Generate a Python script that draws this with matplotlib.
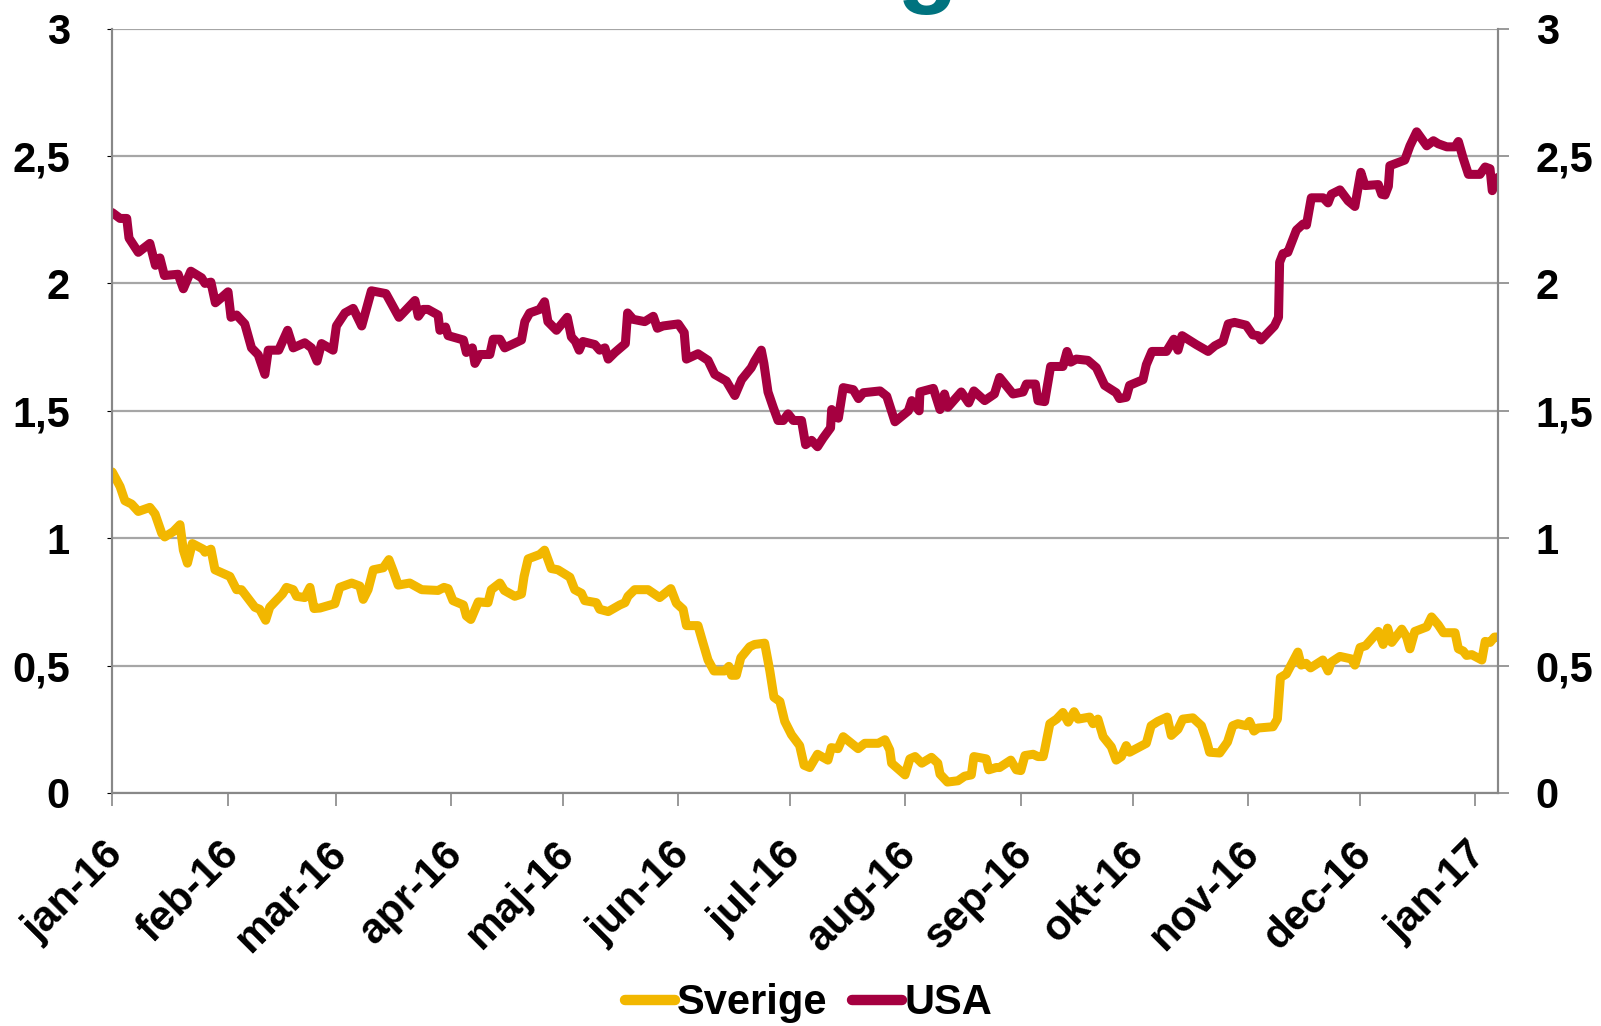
import matplotlib
matplotlib.use("Agg")
import matplotlib.pyplot as plt
import matplotlib.ticker as mticker
import matplotlib.transforms as mtransforms
import pandas as pd

plt.rcParams["font.family"] = ["Liberation Sans", "DejaVu Sans"]
plt.rcParams["font.weight"] = "bold"

# days counted from 1 jan 2016
usa_day = [0, 2.1, 3.9, 4.5, 7, 10.1, 11.6, 12.8, 14, 17.7, 19.1, 21.1, 24, 24.9, 26.5, 27.7,
           29.4, 31.1, 31.9, 33.4, 35.6, 37.4, 39.2, 41, 41.9, 44.7, 47.1, 48.6, 51.7, 53.5,
           55, 56.2, 59.3, 60.2, 62.5, 64.7, 67, 69.6, 73.5, 77, 81.3, 82.2, 83.5, 84.8, 87.5,
           88, 89.5, 90.2, 94.3, 95.1, 96.7, 97.4, 98.7, 101.4, 102.3, 104.1, 105.4, 109.9,
           110.8, 112.1, 114.8, 116.1, 117, 119.3, 122.2, 123.3, 124.4, 125.4, 126.4, 129.6,
           130.9, 132.3, 133.2, 135, 137.8, 138.4, 139.9, 143, 145.3, 146.4, 147.9, 152, 153.6,
           154.2, 157.3, 160, 161.8, 164.9, 167.2, 169, 171.6, 172.5, 174.3, 175, 176.1, 177.5,
           178.8, 180.2, 181.5, 182.9, 185.1, 186.2, 187.8, 189.4, 190.9, 192.9, 193.2, 195,
           196.3, 199, 200.4, 201.7, 206.2, 208, 210.2, 213.8, 214.7, 216.7, 216.9, 220.5,
           222.3, 223.5, 224.4, 228, 230, 231.4, 234.3, 236.9, 238.3, 241.9, 244.6, 245.5,
           247.9, 248.6, 250.4, 252, 255.3, 256.4, 257.4, 258.9, 262, 264.3, 266.5, 269.6,
           270.5, 272.3, 273.2, 276.8, 277.7, 279.2, 283.1, 285.1, 286.2, 287.3, 291.1, 294.3,
           296.1, 298.3, 299.7, 301.4, 304.5, 306.3, 307.7, 308.5, 312.1, 313.2, 313.5, 314.4,
           315.7, 318, 319.8, 320.7, 322, 325.2, 326.5, 327.4, 329.7, 331.9, 333.7, 335.3,
           336.4, 340, 340.9, 341.8, 342.7, 343.1, 347.1, 348.5, 350.3, 353, 354.8, 356.1,
           358.4, 360.6, 361.5, 362.8, 364.2, 367.3, 368.7, 370, 370.6, 372.1]
usa = [2.278, 2.255, 2.255, 2.178, 2.122, 2.157, 2.071, 2.1, 2.031, 2.036, 1.979, 2.048, 2.022,
       2.0, 2.005, 1.924, 1.945, 1.967, 1.867, 1.876, 1.841, 1.747, 1.72, 1.643, 1.738, 1.738,
       1.816, 1.747, 1.767, 1.747, 1.695, 1.764, 1.738, 1.833, 1.884, 1.902, 1.833, 1.971,
       1.96, 1.867, 1.933, 1.871, 1.898, 1.898, 1.876, 1.816, 1.829, 1.795, 1.778, 1.729,
       1.747, 1.686, 1.721, 1.721, 1.781, 1.781, 1.747, 1.778, 1.85, 1.884, 1.898, 1.928,
       1.85, 1.816, 1.867, 1.79, 1.772, 1.738, 1.772, 1.76, 1.738, 1.747, 1.703, 1.729, 1.764,
       1.884, 1.859, 1.85, 1.871, 1.824, 1.833, 1.841, 1.807, 1.703, 1.724, 1.698, 1.643,
       1.617, 1.56, 1.622, 1.669, 1.695, 1.738, 1.686, 1.574, 1.514, 1.462, 1.462, 1.488,
       1.462, 1.462, 1.367, 1.384, 1.359, 1.393, 1.433, 1.505, 1.471, 1.591, 1.583, 1.548,
       1.571, 1.578, 1.557, 1.457, 1.5, 1.54, 1.5, 1.574, 1.588, 1.505, 1.566, 1.514, 1.574,
       1.531, 1.578, 1.54, 1.566, 1.631, 1.566, 1.574, 1.605, 1.605, 1.54, 1.536, 1.674,
       1.674, 1.733, 1.691, 1.703, 1.698, 1.669, 1.6, 1.571, 1.548, 1.553, 1.6, 1.622, 1.681,
       1.733, 1.733, 1.781, 1.738, 1.795, 1.76, 1.733, 1.755, 1.772, 1.841, 1.847, 1.836,
       1.798, 1.795, 1.778, 1.833, 1.867, 2.083, 2.117, 2.122, 2.209, 2.233, 2.229, 2.336,
       2.336, 2.316, 2.35, 2.367, 2.324, 2.302, 2.436, 2.384, 2.388, 2.35, 2.347, 2.381,
       2.462, 2.484, 2.54, 2.595, 2.54, 2.56, 2.548, 2.536, 2.536, 2.557, 2.491, 2.428,
       2.428, 2.457, 2.45, 2.364, 2.416]

sve_day = [0, 2.1, 3.4, 5.2, 7, 10.1, 11.5, 13.3, 14.1, 16.4, 18.2, 19.1, 20.2, 21.5, 24.4,
           24.9, 26.5, 27.6, 31.6, 33.4, 34.7, 38.3, 39.6, 41.2, 42.3, 45.7, 46.8, 48.6, 49.5,
           51.7, 53.1, 54.2, 55.8, 59.8, 61.1, 64.3, 66.5, 67.4, 68.7, 70.1, 72.8, 74.3, 75.5,
           76.8, 79.9, 83.1, 87.5, 89.1, 90.2, 91.5, 94.3, 95.1, 96.3, 98.3, 100.9, 101.8,
           104.1, 105.3, 108.1, 109.9, 110.6, 111.7, 114.8, 116.1, 117.9, 119.7, 122.9, 124.2,
           126, 126.9, 130, 130.9, 133.2, 136.3, 137.7, 138.5, 140.3, 143.9, 147, 150, 151.5,
           153.3, 154.2, 157.3, 158.6, 160, 161.6, 164.5, 165.6, 166.3, 167.6, 168.8, 171.2,
           172.5, 175.2, 176.6, 177.7, 179.3, 180.6, 182.4, 184.6, 185.8, 187.3, 189.4, 192.2,
           193.1, 194.9, 196.3, 200.3, 202.1, 205.7, 207.5, 208.8, 209.3, 212.9, 214.2, 215.6,
           217.4, 220, 221.7, 222.3, 224.3, 227.1, 228.9, 230.7, 231.4, 234.7, 235.4, 237.4,
           238.3, 241.3, 242.8, 244, 245.1, 247.3, 248.6, 250, 250.4, 251.8, 253.6, 255.3,
           256.7, 258.3, 259.4, 262.5, 263.4, 264.7, 266.1, 268.3, 269.6, 271, 272.3, 273.2,
           277.7, 279, 280.8, 283.3, 284.4, 286.2, 287.5, 290.2, 292.5, 293.8, 294.7, 297.4,
           299.5, 300.9, 302.3, 304.5, 305.4, 306.6, 307.7, 311.7, 312.9, 313.7, 315.3, 318.4,
           319.3, 320.6, 321.8, 325.1, 326.5, 327.4, 329.7, 332.8, 333.7, 335.1, 336.6, 340,
           341.3, 342.5, 343.6, 346.3, 347.6, 348.5, 349.8, 353, 354.3, 356.1, 357.5, 360.6,
           361.5, 362.8, 363.7, 365.1, 367.8, 368.7, 370, 371.2, 372.1]
sverige = [1.26, 1.203, 1.147, 1.134, 1.105, 1.121, 1.095, 1.019, 1.005, 1.026, 1.053, 0.953,
           0.902, 0.979, 0.957, 0.945, 0.957, 0.876, 0.85, 0.798, 0.798, 0.729, 0.721, 0.678,
           0.729, 0.781, 0.807, 0.798, 0.772, 0.767, 0.807, 0.724, 0.726, 0.743, 0.807, 0.824,
           0.812, 0.76, 0.798, 0.876, 0.884, 0.916, 0.87, 0.816, 0.824, 0.798, 0.795, 0.807,
           0.802, 0.755, 0.738, 0.695, 0.681, 0.75, 0.747, 0.798, 0.824, 0.795, 0.772, 0.781,
           0.85, 0.919, 0.936, 0.953, 0.881, 0.876, 0.847, 0.798, 0.784, 0.755, 0.747, 0.721,
           0.712, 0.738, 0.747, 0.772, 0.798, 0.798, 0.767, 0.802, 0.745, 0.721, 0.657, 0.657,
           0.591, 0.522, 0.479, 0.479, 0.497, 0.462, 0.462, 0.531, 0.574, 0.583, 0.588, 0.479,
           0.376, 0.359, 0.281, 0.229, 0.186, 0.109, 0.1, 0.152, 0.129, 0.178, 0.174, 0.221,
           0.174, 0.195, 0.195, 0.209, 0.169, 0.117, 0.071, 0.134, 0.143, 0.117, 0.14, 0.117,
           0.074, 0.043, 0.048, 0.066, 0.071, 0.143, 0.134, 0.091, 0.1, 0.1, 0.129, 0.091,
           0.088, 0.147, 0.152, 0.143, 0.143, 0.169, 0.272, 0.29, 0.316, 0.278, 0.319, 0.29,
           0.298, 0.272, 0.29, 0.221, 0.181, 0.129, 0.143, 0.186, 0.16, 0.195, 0.264, 0.281,
           0.298, 0.226, 0.25, 0.29, 0.295, 0.264, 0.209, 0.16, 0.157, 0.2, 0.264, 0.272, 0.264,
           0.281, 0.243, 0.255, 0.26, 0.29, 0.453, 0.467, 0.553, 0.502, 0.509, 0.491, 0.522,
           0.479, 0.514, 0.536, 0.526, 0.502, 0.571, 0.578, 0.634, 0.583, 0.647, 0.591, 0.643,
           0.612, 0.566, 0.634, 0.652, 0.691, 0.66, 0.629, 0.629, 0.566, 0.557, 0.54, 0.543,
           0.522, 0.595, 0.591, 0.612, 0.612]

month_starts = ["2016-01-01", "2016-02-01", "2016-03-01", "2016-04-01", "2016-05-01",
                "2016-06-01", "2016-07-01", "2016-08-01", "2016-09-01", "2016-10-01",
                "2016-11-01", "2016-12-01", "2017-01-01"]
month_labels = ["jan-16", "feb-16", "mar-16", "apr-16", "maj-16", "jun-16", "jul-16",
                "aug-16", "sep-16", "okt-16", "nov-16", "dec-16", "jan-17"]
y_ticks = [0, 0.5, 1, 1.5, 2, 2.5, 3]

start = pd.Timestamp("2016-01-01")
usa_dates = start + pd.to_timedelta(usa_day, unit="D")
sve_dates = start + pd.to_timedelta(sve_day, unit="D")

gold = "#F2B700"
wine = "#A50040"
grey = "#A6A6A6"

fig = plt.figure(figsize=(16.01, 10.26), dpi=100)
ax = fig.add_axes([0.0701, 0.2271, 0.8657, 0.7450])

ax.plot(sve_dates, sverige, color=gold, lw=6.5, label="Sverige",
        solid_joinstyle="round", solid_capstyle="round")
ax.plot(usa_dates, usa, color=wine, lw=6.5, label="USA",
        solid_joinstyle="round", solid_capstyle="round")

ax.set_ylim(0, 3)
ax.set_xlim(start, start + pd.Timedelta(days=372.2))
ax.set_yticks(y_ticks)
comma = mticker.FuncFormatter(lambda v, p: ("%g" % v).replace(".", ","))
ax.yaxis.set_major_formatter(comma)
ax.grid(axis="y", color=grey, lw=1.6)
ax.set_axisbelow(True)

ax.set_xticks(pd.to_datetime(month_starts))
ax.set_xticklabels(month_labels, rotation=45, ha="right", rotation_mode="anchor")
ax.tick_params(axis="x", length=9.5, width=1.2, color="#888888", pad=20,
               labelsize=30.5)
ax.tick_params(axis="y", left=False, labelsize=30, pad=27)

# nudge the slanted month labels a little to the left
shift = mtransforms.ScaledTranslation(-0.09, 0.0, fig.dpi_scale_trans)
for lbl in ax.get_xticklabels():
    lbl.set_transform(lbl.get_transform() + shift)

ax2 = ax.twinx()
ax2.set_ylim(0, 3)
ax2.set_yticks(y_ticks)
ax2.yaxis.set_major_formatter(comma)
ax2.tick_params(axis="y", length=8, width=1.2, color="#888888", pad=19, labelsize=30)

for a in (ax, ax2):
    a.spines["top"].set_visible(False)
    for s in ("left", "right", "bottom"):
        a.spines[s].set_color("#888888")
        a.spines[s].set_linewidth(1.5)

for lbl in ax.get_xticklabels() + ax.get_yticklabels() + ax2.get_yticklabels():
    lbl.set_fontweight("bold")

# descender of the cut-off title
fig.text(0.579, 1.006, "g", color="#00737F", fontsize=72, fontweight="bold",
         ha="center", va="baseline")

leg = fig.legend(loc="center", bbox_to_anchor=(0.505, 0.022), ncol=2, frameon=False,
                 handlelength=1.2, handletextpad=0.05, columnspacing=0.6,
                 prop={"size": 30, "weight": "bold"})
for h in leg.get_lines():
    h.set_linewidth(7.5)

fig.savefig("out.png", dpi=100)
